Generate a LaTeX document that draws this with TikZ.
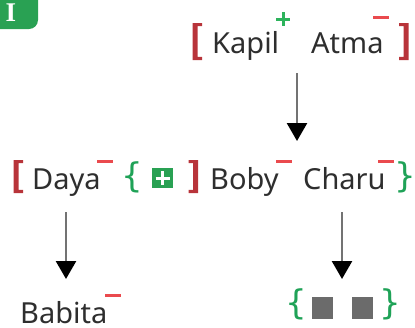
\documentclass[tikz,border=0pt]{standalone}
\usepackage{fontspec}
\setmainfont{Noto Sans}
\newfontfamily\badgefont{Liberation Serif}
\newfontfamily\bracefont{DejaVu Sans}
\usetikzlibrary{positioning,arrows.meta}
\definecolor{txtGray}{HTML}{2E2E2E}
\definecolor{brRed}{HTML}{B8343A}
\definecolor{sgRed}{HTML}{EA4A4E}
\definecolor{sgGreen}{HTML}{2DB35C}
\definecolor{brGreen}{HTML}{1FA257}
\definecolor{boxGray}{HTML}{6B6B6B}
\tikzstyle{person} = [text=txtGray, font=\fontsize{29}{30}\selectfont, inner sep=0pt, anchor=base west]
\tikzstyle{greenBrace} = [text=brGreen, font=\fontsize{34}{36}\selectfont\bracefont, inner sep=0pt]
\tikzstyle{arrow} = [draw=gray!90!black, line width=2.6pt, -{Triangle[length=18pt,width=20pt,color=black]}]
\tikzstyle{signMinus} = [sgRed, line width=3pt]
\tikzstyle{signPlus} = [sgGreen, line width=3pt]
\newcommand{\drawMinus}[2]{
  \draw[signMinus] (#1-8,#2) -- (#1+8,#2);
}
\newcommand{\drawPlus}[3]{
  \draw[#3] (#1-7,#2) -- (#1+7,#2);
  \draw[#3] (#1,#2-7) -- (#1,#2+7);
}
% bracket: #1 = stem x, #2 = top, #3 = bottom, #4 = +1 for [, -1 for ]
\newcommand{\drawBracket}[4]{
  \fill[brRed] (#1,#2) -- ++(#4*9.5,0) -- ++(0,3.2) -- ++(-#4*4.5,0)
    -- (#1+#4*5,#3-3.2) -- ++(#4*4.5,0) -- ++(0,3.2) -- (#1,#3) -- cycle;
}
\begin{document}
\begin{tikzpicture}[x=1pt,y=-1pt]
  \clip (0,0) rectangle (415,327);
  % badge
  \fill[sgGreen!90!black, rounded corners=9pt] (-20,-20) rectangle (38,29);
  \node[text=white, font=\fontsize{27}{28}\selectfont\badgefont\bfseries, inner sep=0pt, anchor=base] (badge) at (11,21) {I};

  % top row
  \drawBracket{192.5}{23}{60}{1}
  \node[person] (kapil) at (212,53) {Kapil};
  \node[person] (atma) at (311,53) {Atma};
  \drawBracket{408.5}{23}{60}{-1}
  \drawPlus{283}{19}{signPlus}
  \drawMinus{381}{17}

  % middle row
  \drawBracket{13.5}{160}{193}{1}
  \node[person] (daya) at (32,189) {Daya};
  \node[greenBrace] (lcMid) at (132,177) {\{};
  \fill[sgGreen!90!black] (152,168) rectangle (173,188);
  \drawPlus{162.5}{178}{white, line width=3pt}
  \drawBracket{198}{160}{193}{-1}
  \node[person] (boby) at (210,189) {Boby};
  \node[person] (charu) at (303,189) {Charu};
  \node[greenBrace] (rcMid) at (405,177) {\}};
  \drawMinus{105}{161}
  \drawMinus{284}{161}
  \drawMinus{386}{161}

  % bottom row
  \node[person] (babita) at (20,323) {Babita};
  \drawMinus{113}{295}
  \node[greenBrace] (lcBot) at (296,304) {\{};
  \fill[boxGray] (312,297) rectangle (333,319);
  \fill[boxGray] (352,297) rectangle (373,319);
  \node[greenBrace] (rcBot) at (390,304) {\}};

  % arrows
  \coordinate (topOut) at (297,73);
  \coordinate (midIn) at (297,141);
  \coordinate (dayaOut) at (66,212);
  \coordinate (babitaIn) at (66,279);
  \coordinate (charuOut) at (342,212);
  \coordinate (setIn) at (342,279);
  \draw[arrow] (topOut) -- (midIn);
  \draw[arrow] (dayaOut) -- (babitaIn);
  \draw[arrow] (charuOut) -- (setIn);
\end{tikzpicture}
\end{document}
